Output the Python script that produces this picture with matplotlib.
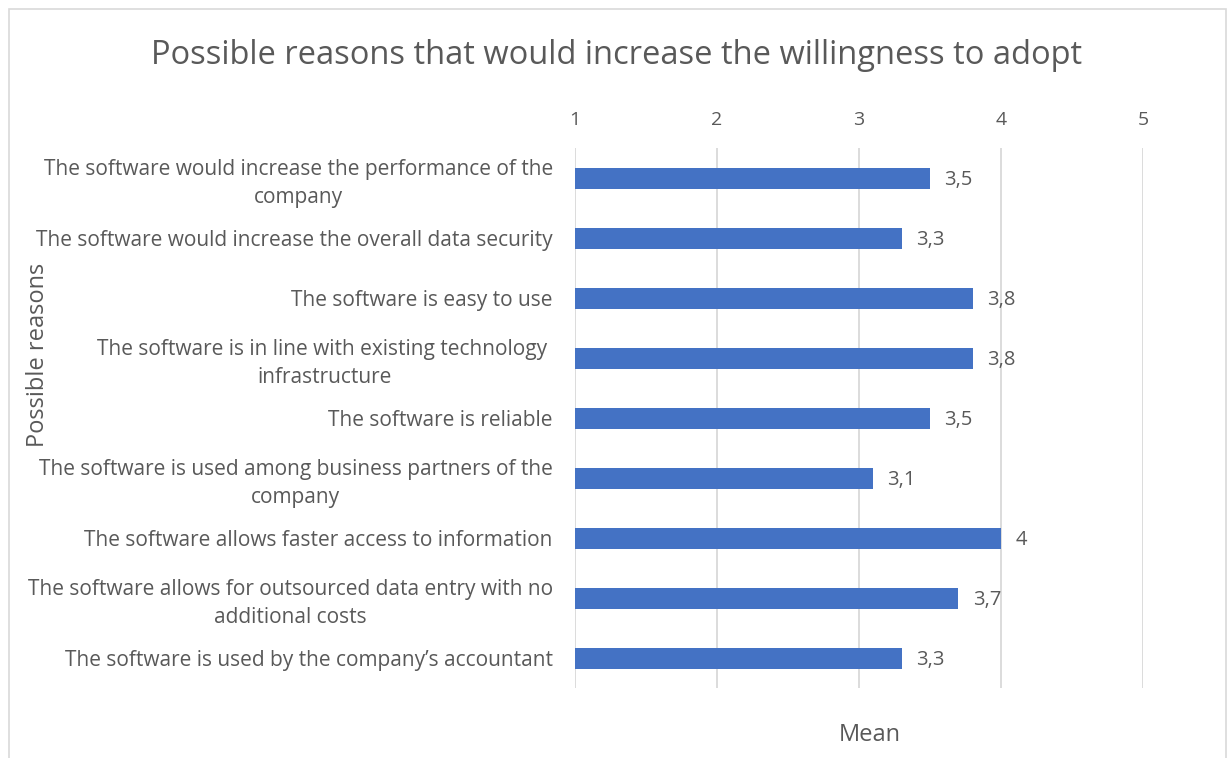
import matplotlib.pyplot as plt
from matplotlib.patches import Rectangle

plt.rcParams['font.family'] = ['Open Sans', 'DejaVu Sans']

reasons = [
    "The software would increase the performance of the\ncompany",
    "The software would increase the overall data security",
    "The software is easy to use",
    "The software is in line with existing technology \ninfrastructure",
    "The software is reliable",
    "The software is used among business partners of the\ncompany",
    "The software allows faster access to information",
    "The software allows for outsourced data entry with no\nadditional costs",
    "The software is used by the company\u2019s accountant",
]
means = [3.5, 3.3, 3.8, 3.8, 3.5, 3.1, 4.0, 3.7, 3.3]
ticks = [1, 2, 3, 4, 5]

text_color = '#595959'
bar_color = '#4472C4'
grid_color = '#D9D9D9'

fig = plt.figure(figsize=(12.29, 7.58), dpi=100)
ax = fig.add_axes([575 / 1229, 1 - 688 / 758, (1143 - 575) / 1229, (688 - 148) / 758])

pos = list(range(len(reasons)))
# bars start at the axis minimum (1), so width is value - 1
ax.barh(pos, [m - 1 for m in means], left=1, height=0.35, color=bar_color, zorder=3)

for p, m in zip(pos, means):
    ax.text(m + 0.1, p + 0.03, f"{m:g}".replace('.', ','), va='center', ha='left',
            fontsize=14.5, color=text_color)

ax.set_xlim(1, 5)
ax.set_ylim(len(reasons) - 0.5, -0.5)
ax.set_xticks(ticks)
ax.set_xticklabels([str(t) for t in ticks])
ax.xaxis.tick_top()
ax.tick_params(axis='x', length=0, pad=14, labelsize=14, labelcolor=text_color)
ax.tick_params(axis='y', length=0, pad=16, labelsize=15, labelcolor=text_color)
ax.set_yticks(pos)
ax.set_yticklabels(reasons)
for lab in ax.get_yticklabels():
    lab.set_multialignment('center')
    lab.set_linespacing(1.38)

ax.grid(axis='x', color=grid_color, linewidth=1.3, zorder=0)
for s in ax.spines.values():
    s.set_visible(False)

fig.text(617 / 1229, 1 - 55 / 758, "Possible reasons that would increase the willingness to adopt",
         ha='center', va='center', fontsize=23.5, color=text_color)
fig.text(38 / 1229, 1 - 355 / 758, "Possible reasons", rotation=90, ha='center', va='center',
         fontsize=17, color=text_color)
fig.text(870 / 1229, 1 - 735 / 758, "Mean", ha='center', va='center', fontsize=17, color=text_color)

# chart area border
fig.patches.append(Rectangle((8.5 / 1229, -0.1), (1226 - 8.5) / 1229, 1.1 - 9 / 758,
                             transform=fig.transFigure, fill=False, edgecolor=grid_color,
                             linewidth=1.2))

fig.savefig('out.png', dpi=100, facecolor='white')
